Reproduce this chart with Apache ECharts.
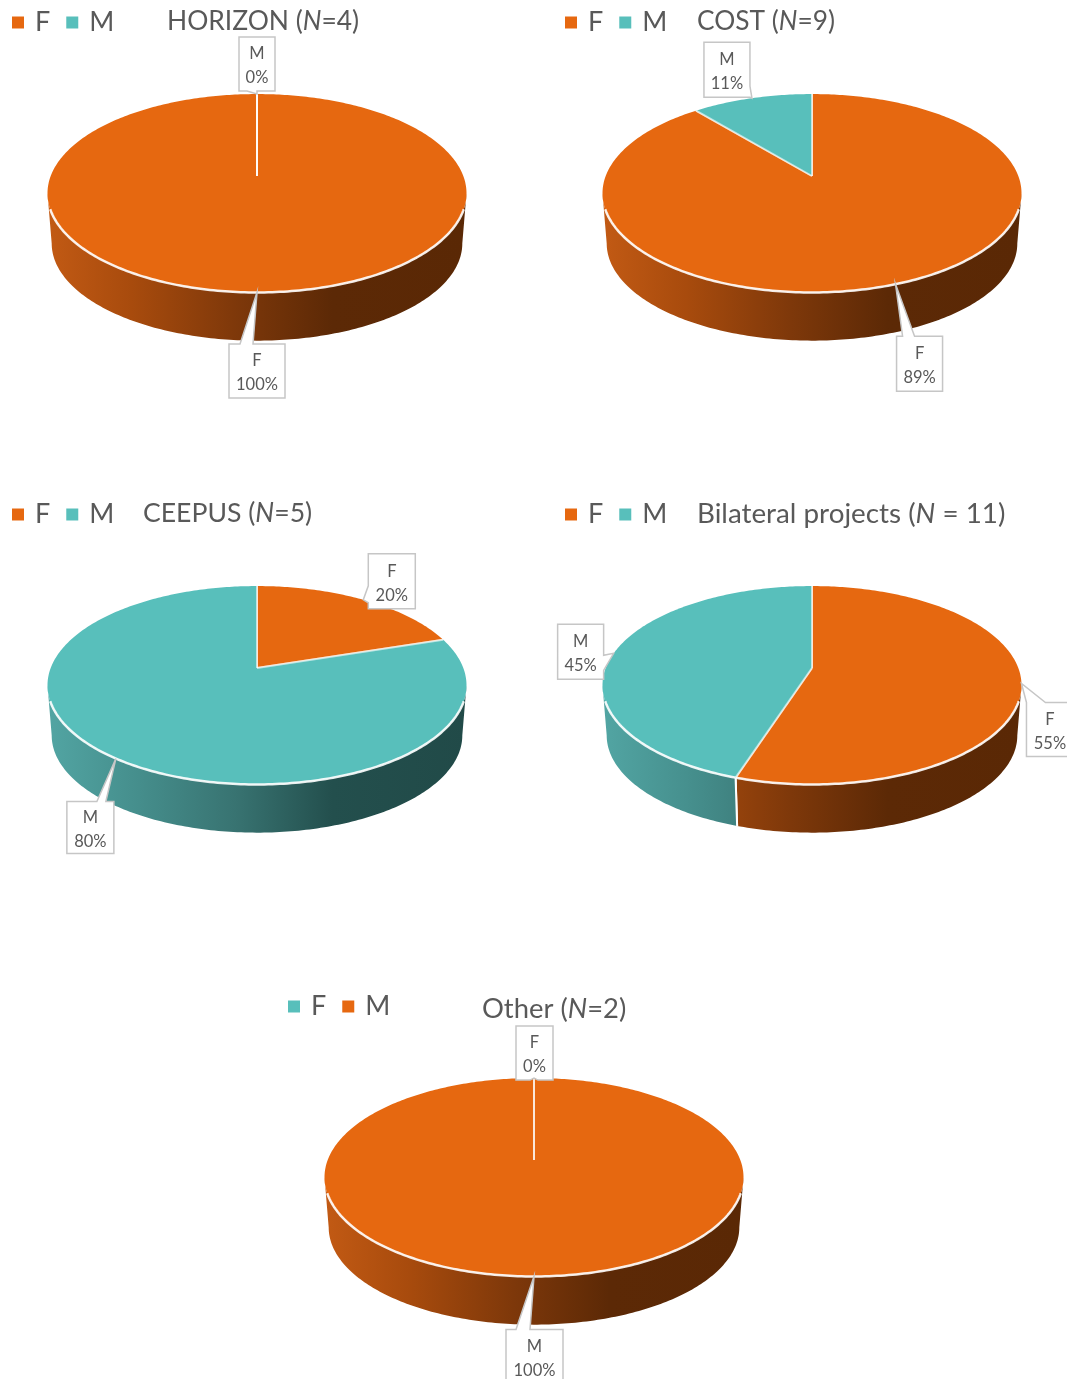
<!DOCTYPE html>
<html>
<head>
<meta charset="utf-8">
<script src="https://cdn.jsdelivr.net/npm/echarts@6/dist/echarts.min.js"></script>
<style>
html, body { margin: 0; padding: 0; background: #fff; }
#main { width: 1067px; height: 1379px; }
</style>
</head>
<body>
<div id="main"></div>
<script>
// chart data
const pieNames = ['HORIZON', 'COST', 'CEEPUS', 'Bilateral projects', 'Other'];
const pieSizes = ['=4', '=9', '=5', ' = 11', '=2'];
const sliceNames = ['F', 'M'];
const fShares = [100, 89, 20, 55, 0];
const mShares = [0, 11, 80, 45, 100];
const fTints = ['orange', 'orange', 'orange', 'orange', 'teal'];
const mTints = ['teal', 'teal', 'teal', 'teal', 'orange'];

// colours
const tints = {
  orange: { top: '#E66810', wall: ['#C25A14', '#A84B0D', '#7E380A', '#5C2906', '#5A2805'] },
  teal: { top: '#58BFBB', wall: ['#52A5A3', '#46908E', '#387371', '#234F4D', '#214A48'] }
};
const textColor = '#595959';
const fontName = 'Lato';

// layout: centre of each pie on the page, and a label box for each slice
// box = [dx, dy, w, h] from the rim point, then the edge the wedge leaves from
const pieCentres = [[257, 176], [812, 176], [257, 668], [812, 668], [534, 1160]];
const legendPos = [[12, 9], [565, 9], [12, 501], [565, 501], [288, 993]];
const titlePos = [[167, 8], [697, 9], [143, 500], [697, 500], [482, 996]];
const titleSizes = [26.4, 26.3, 26.6, 27.8, 27.4];
const calloutBoxes = [
  [[-28, 51.5, 56, 54, 'top', 11, 24], [-18, -57, 36, 54, 'bottom', 8, 18]],
  [[1, 52, 46, 55, 'top', 6, 18], [-48, -56, 46, 55, 'right', 44, 55]],
  [[5, -46, 47, 55, 'left', 32, 49], [-49, 43, 47, 52, 'top', 30, 39]],
  [[5, 19, 47, 54, 'top', 0, 19], [-56, -29, 46, 55, 'right', 31, 46]],
  [[-18, -52, 37, 54, 'bottom', 14, 22], [-28, 53, 57, 54, 'top', 10, 24]]
];
const radiusX = 209.5, unitY = 96.2;
const tilt = 0.174;      // perspective of the disc
const depth = 0.525;     // thickness of the disc in y axis units
const bottomScale = 0.98;

// share (0-100, clockwise from the top) -> point on the rim, in axis units
function rim(share, lower) {
  const a = share / 100 * 2 * Math.PI;
  const u = Math.sin(a), v = -Math.cos(a), w = 1 - tilt * v;
  const x = Math.sqrt(1 - tilt * tilt) * u / w, y = v / w;
  return lower ? [x * bottomScale, y * bottomScale + depth] : [x, y];
}

// the part of the rim that faces the viewer
const frontStart = Math.acos(-tilt) / (2 * Math.PI) * 100;
const frontEnd = 100 - frontStart;
const rimInset = 2.5;

function steps(from, to) {
  const out = [];
  for (let s = from; s < to; s += 0.25) out.push(s);
  out.push(to);
  return out;
}

function renderSlice(tintName) {
  return function (params, api) {
    const start = api.value(0), end = start + api.value(1);
    const tint = tints[tintName];
    const children = [];
    const centre = api.coord([0, 0]);
    const seam = { stroke: 'rgba(255,255,255,0.6)', lineWidth: 2 };

    // side wall
    const from = Math.max(start, frontStart), to = Math.min(end, frontEnd);
    if (to > from) {
      const upper = steps(from, to).map(s => api.coord(rim(s)));
      const lower = steps(from, to).reverse().map(s => api.coord(rim(s, true)));
      const x0 = api.coord([-1, 0])[0], x1 = api.coord([1, 0])[0];
      children.push({
        type: 'polygon',
        shape: { points: upper.concat(lower) },
        style: {
          fill: new echarts.graphic.LinearGradient(x0, 0, x1, 0, [
            { offset: 0, color: tint.wall[0] },
            { offset: 0.2, color: tint.wall[1] },
            { offset: 0.45, color: tint.wall[2] },
            { offset: 0.68, color: tint.wall[3] },
            { offset: 1, color: tint.wall[4] }
          ], true)
        }
      });
    }

    // top face
    if (end > start) {
      const face = steps(start, end).map(s => api.coord(rim(s)));
      children.push({ type: 'polygon', shape: { points: [centre].concat(face) }, style: { fill: tint.top } });
    }

    // white front edge goes over the face, it fades out before the sides
    const edgeFrom = Math.max(start, frontStart + rimInset), edgeTo = Math.min(end, frontEnd - rimInset);
    if (edgeTo > edgeFrom) {
      const edge = steps(edgeFrom, edgeTo).map(s => api.coord(rim(s)));
      children.push({ type: 'polyline', shape: { points: edge }, style: { stroke: 'rgba(255,255,255,0.9)', lineWidth: 2.5, fill: null } });
    }

    // slice edges, drawn even for an empty slice
    [start, end].forEach(s => {
      children.push({ type: 'line', shape: lineShape(centre, api.coord(rim(s))), style: seam });
      if (s > frontStart && s < frontEnd) {
        children.push({ type: 'line', shape: lineShape(api.coord(rim(s)), api.coord(rim(s, true))), style: { stroke: '#fff', lineWidth: 2 } });
      }
    });
    return { type: 'group', children: children };
  };
}

function lineShape(a, b) {
  return { x1: a[0], y1: a[1], x2: b[0], y2: b[1] };
}

// box outline with a wedge going out to the tip
function calloutPoints(tip, b) {
  const x = tip[0] + b[0], y = tip[1] + b[1], w = b[2], h = b[3], edge = b[4], p = b[5], q = b[6];
  const pts = [[x, y]];
  if (edge === 'top') pts.push([x + p, y], tip, [x + q, y]);
  pts.push([x + w, y]);
  if (edge === 'right') pts.push([x + w, y + p], tip, [x + w, y + q]);
  pts.push([x + w, y + h]);
  if (edge === 'bottom') pts.push([x + q, y + h], tip, [x + p, y + h]);
  pts.push([x, y + h]);
  if (edge === 'left') pts.push([x, y + q], tip, [x, y + p]);
  return pts;
}

function renderCallout(pie) {
  return function (params, api) {
    const start = api.value(0), share = api.value(1);
    const tip = api.coord(rim(start + share / 2));
    const box = calloutBoxes[pie][params.dataIndex];
    return {
      type: 'group',
      children: [{
        type: 'polygon',
        shape: { points: calloutPoints(tip, box) },
        style: { fill: '#fff', stroke: '#C6C6C6', lineWidth: 1.5 }
      }, {
        type: 'text',
        style: {
          text: sliceNames[params.dataIndex] + '\n' + share + '%',
          x: tip[0] + box[0] + box[2] / 2,
          y: tip[1] + box[1] + box[3] / 2 + 2,
          align: 'center',
          verticalAlign: 'middle',
          fontFamily: fontName,
          fontSize: 16.5,
          lineHeight: 24,
          fill: textColor
        }
      }]
    };
  };
}

const grids = [], xAxes = [], yAxes = [], series = [], titles = [], legends = [];

pieNames.forEach(function (name, i) {
  const c = pieCentres[i];
  grids.push({ left: c[0] - radiusX, top: c[1] - unitY, width: radiusX * 2, height: unitY * 3 });
  xAxes.push({ type: 'value', gridIndex: i, min: -1, max: 1, show: false });
  yAxes.push({ type: 'value', gridIndex: i, min: -1, max: 2, inverse: true, show: false });

  series.push({
    type: 'custom', name: 'F', xAxisIndex: i, yAxisIndex: i, z: 2, silent: true,
    renderItem: renderSlice(fTints[i]),
    data: [[0, fShares[i]]]
  });
  series.push({
    type: 'custom', name: 'M', xAxisIndex: i, yAxisIndex: i, z: 2, silent: true,
    renderItem: renderSlice(mTints[i]),
    data: [[fShares[i], mShares[i]]]
  });
  series.push({
    type: 'custom', xAxisIndex: i, yAxisIndex: i, z: 3, silent: true,
    renderItem: renderCallout(i),
    data: [[0, fShares[i]], [fShares[i], mShares[i]]]
  });

  titles.push({
    left: titlePos[i][0],
    top: titlePos[i][1],
    text: '{a|' + name + ' (}{i|N}{a|' + pieSizes[i] + ')}',
    textStyle: {
      fontWeight: 'normal',
      rich: {
        a: { fontFamily: fontName, fontSize: titleSizes[i], fontWeight: 'normal', color: textColor },
        i: { fontFamily: fontName, fontSize: titleSizes[i], fontWeight: 'normal', fontStyle: 'italic', color: textColor }
      }
    },
    padding: 0
  });

  legends.push({
    left: legendPos[i][0],
    top: legendPos[i][1],
    orient: 'horizontal',
    icon: 'rect',
    itemWidth: 12,
    itemHeight: 12,
    itemGap: 16,
    padding: 0,
    selectedMode: false,
    textStyle: { fontFamily: fontName, fontSize: 27, color: textColor, padding: [0, 0, 0, 6] },
    data: [
      { name: 'F', itemStyle: { color: tints[fTints[i]].top } },
      { name: 'M', itemStyle: { color: tints[mTints[i]].top } }
    ]
  });
});

const chart = echarts.init(document.getElementById('main'));
chart.setOption({
  animation: false,
  backgroundColor: '#fff',
  title: titles,
  legend: legends,
  grid: grids,
  xAxis: xAxes,
  yAxis: yAxes,
  series: series
});
</script>
</body>
</html>
